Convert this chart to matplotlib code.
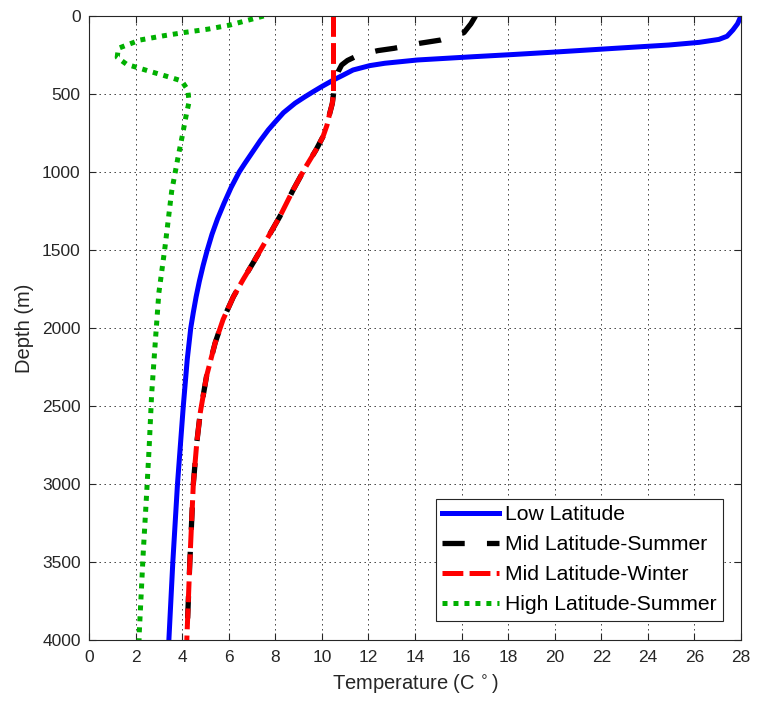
import matplotlib
matplotlib.use("Agg")
import matplotlib.pyplot as plt

plt.rcParams['font.family'] = ['Liberation Sans', 'DejaVu Sans']
plt.rcParams['lines.scale_dashes'] = False  # dash lengths in points

# Low latitude profile
low_depth = [0, 50, 90, 130, 150, 169, 186, 207, 220, 233, 247, 261, 282,
             303, 318, 346, 380, 410, 452, 485, 520, 559, 620, 687, 730, 800,
             943, 1000, 1100, 1200, 1300, 1400, 1500, 1600, 1700, 1800, 1900,
             2000, 2200, 2500, 3000, 3500, 4000]
low_temp = [28.0, 27.85, 27.65, 27.4, 27.05, 26.2, 24.9, 22.6, 21.2, 19.8,
            18.2, 16.5, 14.1, 12.7, 12.06, 11.34, 10.9, 10.5, 10.0, 9.63,
            9.25, 8.85, 8.35, 7.95, 7.7, 7.35, 6.7, 6.45, 6.1, 5.8, 5.52,
            5.28, 5.08, 4.9, 4.74, 4.6, 4.48, 4.37, 4.22, 4.05, 3.8, 3.6, 3.43]

# Mid latitude, summer
mids_depth = [0, 50, 107, 154, 175, 207, 222, 240, 260, 285, 314, 357, 420,
              500, 560, 623, 700, 773, 858, 964, 1114, 1284, 1433, 1582, 1689,
              1800, 1945, 2094, 2307, 2541, 2733, 3000, 3500, 4000]
mids_temp = [16.6, 16.4, 16.1, 15.1, 14.2, 13.1, 12.4, 11.9, 11.45, 11.1,
             10.85, 10.7, 10.55, 10.5, 10.45, 10.34, 10.22, 10.05, 9.75, 9.32,
             8.77, 8.2, 7.63, 7.05, 6.62, 6.2, 5.76, 5.42, 5.05, 4.78, 4.63,
             4.48, 4.33, 4.2]

# Mid latitude, winter
midw_depth = [0, 100, 200, 300, 400, 495, 560, 623, 700, 773, 858, 964, 1114,
              1284, 1433, 1582, 1689, 1800, 1945, 2094, 2307, 2541, 2733,
              3000, 3500, 4000]
midw_temp = [10.5, 10.5, 10.5, 10.5, 10.5, 10.5, 10.45, 10.34, 10.22, 10.05,
             9.75, 9.32, 8.77, 8.2, 7.63, 7.05, 6.62, 6.2, 5.76, 5.42, 5.05,
             4.78, 4.63, 4.48, 4.33, 4.2]

# High latitude, summer
high_depth = [0, 20, 58, 84, 105, 127, 154, 207, 265, 310, 352, 393, 416,
              474, 549, 623, 773, 900, 1124, 1486, 1775, 2062, 2425, 2776,
              3075, 3437, 3949, 4000]
high_temp = [7.5, 7.0, 6.05, 5.12, 4.12, 3.19, 2.19, 1.26, 1.21, 1.62, 2.55,
             3.48, 3.98, 4.24, 4.3, 4.19, 4.0, 3.83, 3.55, 3.26, 3.0, 2.86,
             2.69, 2.58, 2.47, 2.33, 2.16, 2.15]

fig = plt.figure(figsize=(7.57, 7.14), dpi=100)
ax = fig.add_axes([89 / 757, 74 / 714, 652 / 757, 624 / 714])

ax.plot(low_temp, low_depth, color='blue', lw=3.6, label='Low Latitude')
ax.plot(mids_temp, mids_depth, color='black', lw=3.8, dashes=(16, 16),
        dash_capstyle='butt', label='Mid Latitude-Summer')
ax.plot(midw_temp, midw_depth, color='red', lw=3.6, dashes=(15, 4.5),
        dash_capstyle='butt', label='Mid Latitude-Winter')
ax.plot(high_temp, high_depth, color='#00b000', lw=3.6, dashes=(3.6, 4.3),
        dash_capstyle='butt', label='High Latitude-Summer')

ax.set_xlim(0, 28)
ax.set_ylim(4000, 0)
ax.set_xticks(range(0, 29, 2))
ax.set_yticks(range(0, 4001, 500))
ax.grid(True, linestyle=(0, (1, 2.6)), color='#333333', linewidth=0.7)
ax.set_axisbelow(True)

ax.tick_params(direction='in', length=5, width=0.8, colors='#262626',
               labelsize=12.5, top=True, right=True)
ax.tick_params(axis='x', pad=7)
ax.tick_params(axis='y', pad=6)
for s in ax.spines.values():
    s.set_color('#262626')
    s.set_linewidth(0.8)

ax.set_xlabel('Temperature (C$^{\\,\\circ}$)', fontsize=14.5, color='#262626', labelpad=5)
ax.set_ylabel('Depth (m)', fontsize=14.5, color='#262626', labelpad=6)

leg = ax.legend(loc='lower right', bbox_to_anchor=(723 / 757, 93 / 714),
                bbox_transform=fig.transFigure, borderaxespad=0,
                fontsize=15.2, handlelength=2.7, handletextpad=0.25,
                labelspacing=0.52, borderpad=0.32, fancybox=False,
                framealpha=1, edgecolor='#262626')
leg.get_frame().set_linewidth(0.8)

fig.savefig('out.png', dpi=100)
